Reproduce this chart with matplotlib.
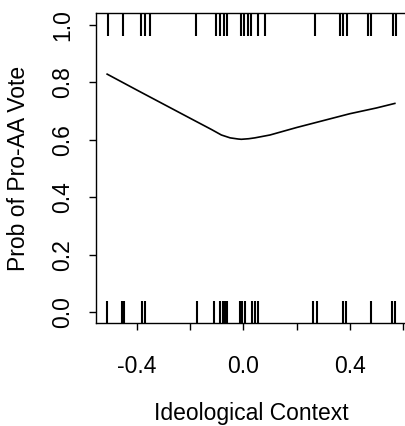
import matplotlib
matplotlib.use('Agg')
import matplotlib.pyplot as plt

# rug positions: votes against (y=0) and pro (y=1)
context_pro = [-0.511, -0.454, -0.387, -0.372, -0.353, -0.180, -0.104, -0.089,
               -0.074, -0.063, -0.010, 0.001, 0.016, 0.027, 0.054, 0.080,
               0.268, 0.363, 0.374, 0.389, 0.468, 0.479, 0.562, 0.573]
context_con = [-0.515, -0.458, -0.451, -0.383, -0.372, -0.176, -0.112, -0.089,
               -0.078, -0.070, -0.063, -0.014, -0.006, 0.005, 0.031, 0.043,
               0.054, 0.261, 0.276, 0.374, 0.385, 0.479, 0.558, 0.569]

# smoothed probability curve
curve_x = [-0.513, -0.4, -0.3, -0.2, -0.12, -0.083, -0.05, -0.02, -0.008,
           0.02, 0.043, 0.1, 0.2, 0.275, 0.4, 0.5, 0.570]
curve_y = [0.829, 0.773, 0.724, 0.675, 0.636, 0.617, 0.607, 0.603, 0.602,
           0.604, 0.607, 0.617, 0.643, 0.661, 0.691, 0.711, 0.727]

x_ticks = [-0.4, -0.2, 0.0, 0.2, 0.4, 0.6]
x_labels = ['-0.4', '', '0.0', '', '0.4', '']
y_ticks = [0.0, 0.2, 0.4, 0.6, 0.8, 1.0]
y_labels = ['0.0', '0.2', '0.4', '0.6', '0.8', '1.0']

plt.rcParams['font.family'] = ['Liberation Sans', 'DejaVu Sans']
FONT = 16.5

W, H = 406, 426
fig = plt.figure(figsize=(W / 100, H / 100), dpi=100)
axes = fig.add_axes([96 / W, 1 - 323 / H, 310 / W, 310 / H])

axes.plot(context_con, [0] * len(context_con), linestyle='none', marker='|',
          markersize=16, markeredgewidth=1.5, color='black')
axes.plot(context_pro, [1] * len(context_pro), linestyle='none', marker='|',
          markersize=16, markeredgewidth=1.5, color='black')
axes.plot(curve_x, curve_y, color='black', linewidth=1.2)

axes.set_xlim(-0.555, 0.612)
axes.set_ylim(-0.038, 1.042)
axes.set_xticks(x_ticks)
axes.set_xticklabels(x_labels)
axes.set_yticks(y_ticks)
axes.set_yticklabels(y_labels, rotation=90, va='center')
axes.tick_params(axis='both', direction='out', length=5, width=1,
                 labelsize=FONT, colors='black')
axes.tick_params(axis='x', pad=18)
axes.tick_params(axis='y', pad=11)
for spine in axes.spines.values():
    spine.set_linewidth(1)
    spine.set_color('black')

axes.set_xlabel('Ideological Context', fontsize=FONT, labelpad=17)
axes.set_ylabel('Prob of Pro-AA Vote', fontsize=FONT, labelpad=15)

fig.savefig('out.png', dpi=100)
